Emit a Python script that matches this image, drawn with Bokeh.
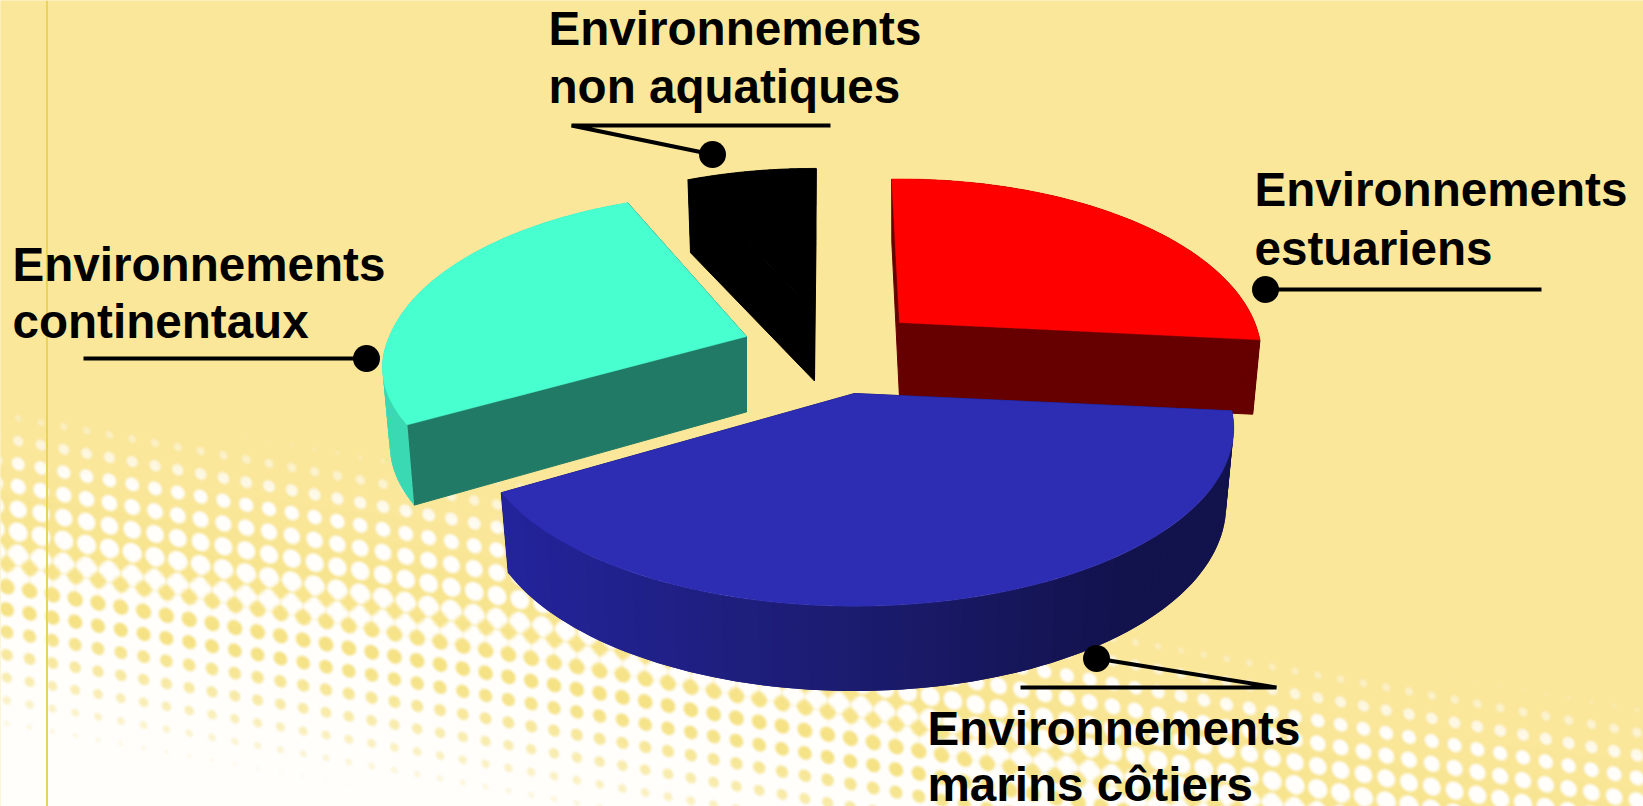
import numpy as np
from bokeh.plotting import figure
from bokeh.models import Range1d
from bokeh.core.properties import value
from bokeh.embed import file_html
from bokeh.resources import INLINE

# ---- data ----
categories = ["Environnements estuariens", "Environnements marins côtiers",
              "Environnements continentaux", "Environnements non aquatiques"]
shares = [27.0, 39.7, 27.3, 6.0]

# ---- styling / layout ----
W, H = 1643, 806
START_DEG = -91.5
ax_, ay_, persp = 372.0, 171.4, 0.194
depth0, depth1 = 75.4, 9.4
apex_x = [899, 854, 746, 814]
apex_y = [322, 393, 336, 311.5]
apex_drop = [75.4, 75.4, 75.4, 69.0]
rim_extra = [-2.0, 0, 0, 6.0]
low_x = [.98, .98, .98, .98]
scale_x = [.955, 1.0, .96, .95]
scale_front = [1.0, 1.0, .89, 1.0]
adj_start = [0, 0, 0, -1.8]
adj_end = [0, 0, 0, 1.8]
top_col = ["#FF0000", "#2D2DB4", "#48FFD0", "#000000"]
inner_col = ["#660000", "#1C1C70", "#217A66", "#000000"]
side_col = ["#660000", None, "#3AD9B4", "#000000"]
draw_order = [3, 2, 0, 1]

TEXT_SHIFT = 17
label_x = [1254, 1254, 927, 927, 12, 12, 548, 548]
label_y = [206, 265, 745, 801, 281, 338, 45, 103]
label_text = ["Environnements", "estuariens", "Environnements", "marins côtiers",
              "Environnements", "continentaux", "Environnements", "non aquatiques"]

dot_x = [1265, 1096, 366, 712]
dot_y = [289, 658, 358, 154]
leader_x = [[1265, 1541], [1096, 1276, 1020], [366, 83], [712, 571, 830]]
leader_y = [[289, 289], [658, 687, 687], [358, 358], [154, 125, 125]]

YEL = np.array([250, 231, 154], float)
YEL2 = np.array([245, 226, 130], float)
WHT = np.array([255, 254, 250], float)
mid_x = [0, 60, 500, 800, 1176, 1643]
mid_y = [560, 567, 627, 690, 795, 860]


def soft(v, w=.16):
    return np.clip(v / w + .5, 0, 1)


def background():
    xs = np.arange(0, W) + .5
    ys = np.arange(0, H) + .5
    X, Y = np.meshgrid(xs, ys)
    mid = np.interp(X, mid_x, mid_y)
    band = np.where(Y < mid, 320.0, 360.0)
    T = np.clip(.5 - (Y - mid) / band, 0, 1)
    gx = (X - 63.3) / 22.8
    gy = (Y - 516.7 - .18 * (X - 63.3)) / 22.8
    # round white dots on yellow above, round yellow dots on white below
    dw = np.hypot(gx - np.round(gx), gy - np.round(gy))
    hx, hy = gx + .5, gy + .5
    dy = np.hypot(hx - np.round(hx), hy - np.round(hy))
    rw = .46 * np.sqrt(np.clip(2 * (1 - T), 0, 1))
    ry = .36 * np.sqrt(np.clip(2 * T, 0, 1))
    a_up = soft(rw - dw) * np.clip(rw / .3, 0, 1) ** 1.5
    a_dn = 1 - soft(ry - dy) * np.clip(ry / .3, 0, 1) ** 1.5
    mix = np.clip((.5 - T) / .16 + .5, 0, 1)
    a = ((1 - mix) * a_up + mix * a_dn)[..., None]
    yc = YEL + (YEL2 - YEL) * np.clip(2 * (1 - T) - .4, 0, 1)[..., None]
    rgb = yc * (1 - a) + WHT * a
    img = np.zeros(X.shape + (4,), np.uint8)
    img[..., :3] = rgb.astype(np.uint8)
    img[..., 3] = 255
    return img


def project(i, t, low=False):
    u, v = np.cos(t), np.sin(t)
    w = 1 - persp * v
    dx = ax_ * scale_x[i] * u / w
    dy = ay_ * np.where(v > 0, scale_front[i], 1.0) * v / w
    if low:
        dx = dx * low_x[i]
        dy = dy + depth0 + depth1 * v + rim_extra[i]
    return apex_x[i] + dx, apex_y[i] + dy


def project_apex(i, low):
    return apex_x[i], apex_y[i] + (apex_drop[i] if low else 0)


def lerp_hex(c0, c1, f):
    c = np.array(c0) + (np.array(c1) - np.array(c0)) * f
    return "#%02x%02x%02x" % tuple(int(v) for v in c)


p = figure(width=W, height=H, output_backend="svg", toolbar_location=None,
           x_range=Range1d(0, W), y_range=Range1d(H, 0), min_border=0)
p.axis.visible = False
p.grid.visible = False
p.outline_line_color = None
p.background_fill_color = "#FAE79A"
p.border_fill_color = None

img = background()
rgba = img.copy()
packed = rgba.view(dtype=np.uint32).reshape(rgba.shape[:2])
p.image_rgba(image=[packed], x=0, y=0, dw=W, dh=H)

p.segment(x0=[46.5], y0=[0], x1=[46.5], y1=[H], line_color="#EAD35A", line_width=2)

fracs = np.array(shares) / sum(shares) * 2 * np.pi
edges = np.radians(START_DEG) + np.concatenate([[0], np.cumsum(fracs)])

for i in draw_order:
    t0 = edges[i] + np.radians(adj_start[i])
    t1 = edges[i + 1] + np.radians(adj_end[i])
    # radial faces
    for te in (t0, t1):
        ex, ey = project(i, np.array([te]))
        lx, ly = project(i, np.array([te]), low=True)
        ax0, ay0 = project_apex(i, False)
        ax1, ay1 = project_apex(i, True)
        p.patch([ax0, ex[0], lx[0], ax1], [ay0, ey[0], ly[0], ay1],
                fill_color=inner_col[i], line_color=inner_col[i], line_width=1)
    # outer wall, strip by strip, each overlapping the next to hide seams
    ts = np.linspace(t0, t1, 90)
    for k in range(len(ts) - 1):
        tt = ts[k:k + 3]
        xa, ya = project(i, tt)
        xb, yb = project(i, tt[::-1], low=True)
        if side_col[i] is None:
            f = np.clip((xa[0] - 505) / 640, 0, 1)
            col = lerp_hex((36, 36, 156), (28, 28, 112), f / .55) if f < .55 else \
                lerp_hex((28, 28, 112), (18, 18, 76), (f - .55) / .45)
        else:
            col = side_col[i]
        p.patch(list(xa) + list(xb), list(ya) + list(yb), fill_color=col,
                line_color=None)
    # top face
    ts = np.linspace(t0, t1, 240)
    rx, ry = project(i, ts)
    p.patch([apex_x[i]] + list(rx), [apex_y[i]] + list(ry), fill_color=top_col[i],
            line_color=top_col[i], line_width=1 if i == 3 else .5)

p.multi_line(leader_x, leader_y, line_color="#000000", line_width=4)
p.scatter(dot_x, dot_y, size=27, fill_color="#000000", line_color="#000000", line_width=0)
p.text(label_x, [y - TEXT_SHIFT for y in label_y], text=label_text, text_font=value("Liberation Sans"),
       text_font_style="bold", text_font_size="47.6px", text_color="#000000",
       text_baseline="alphabetic", text_align="left")

open("out.html", "w").write(file_html(p, INLINE))
